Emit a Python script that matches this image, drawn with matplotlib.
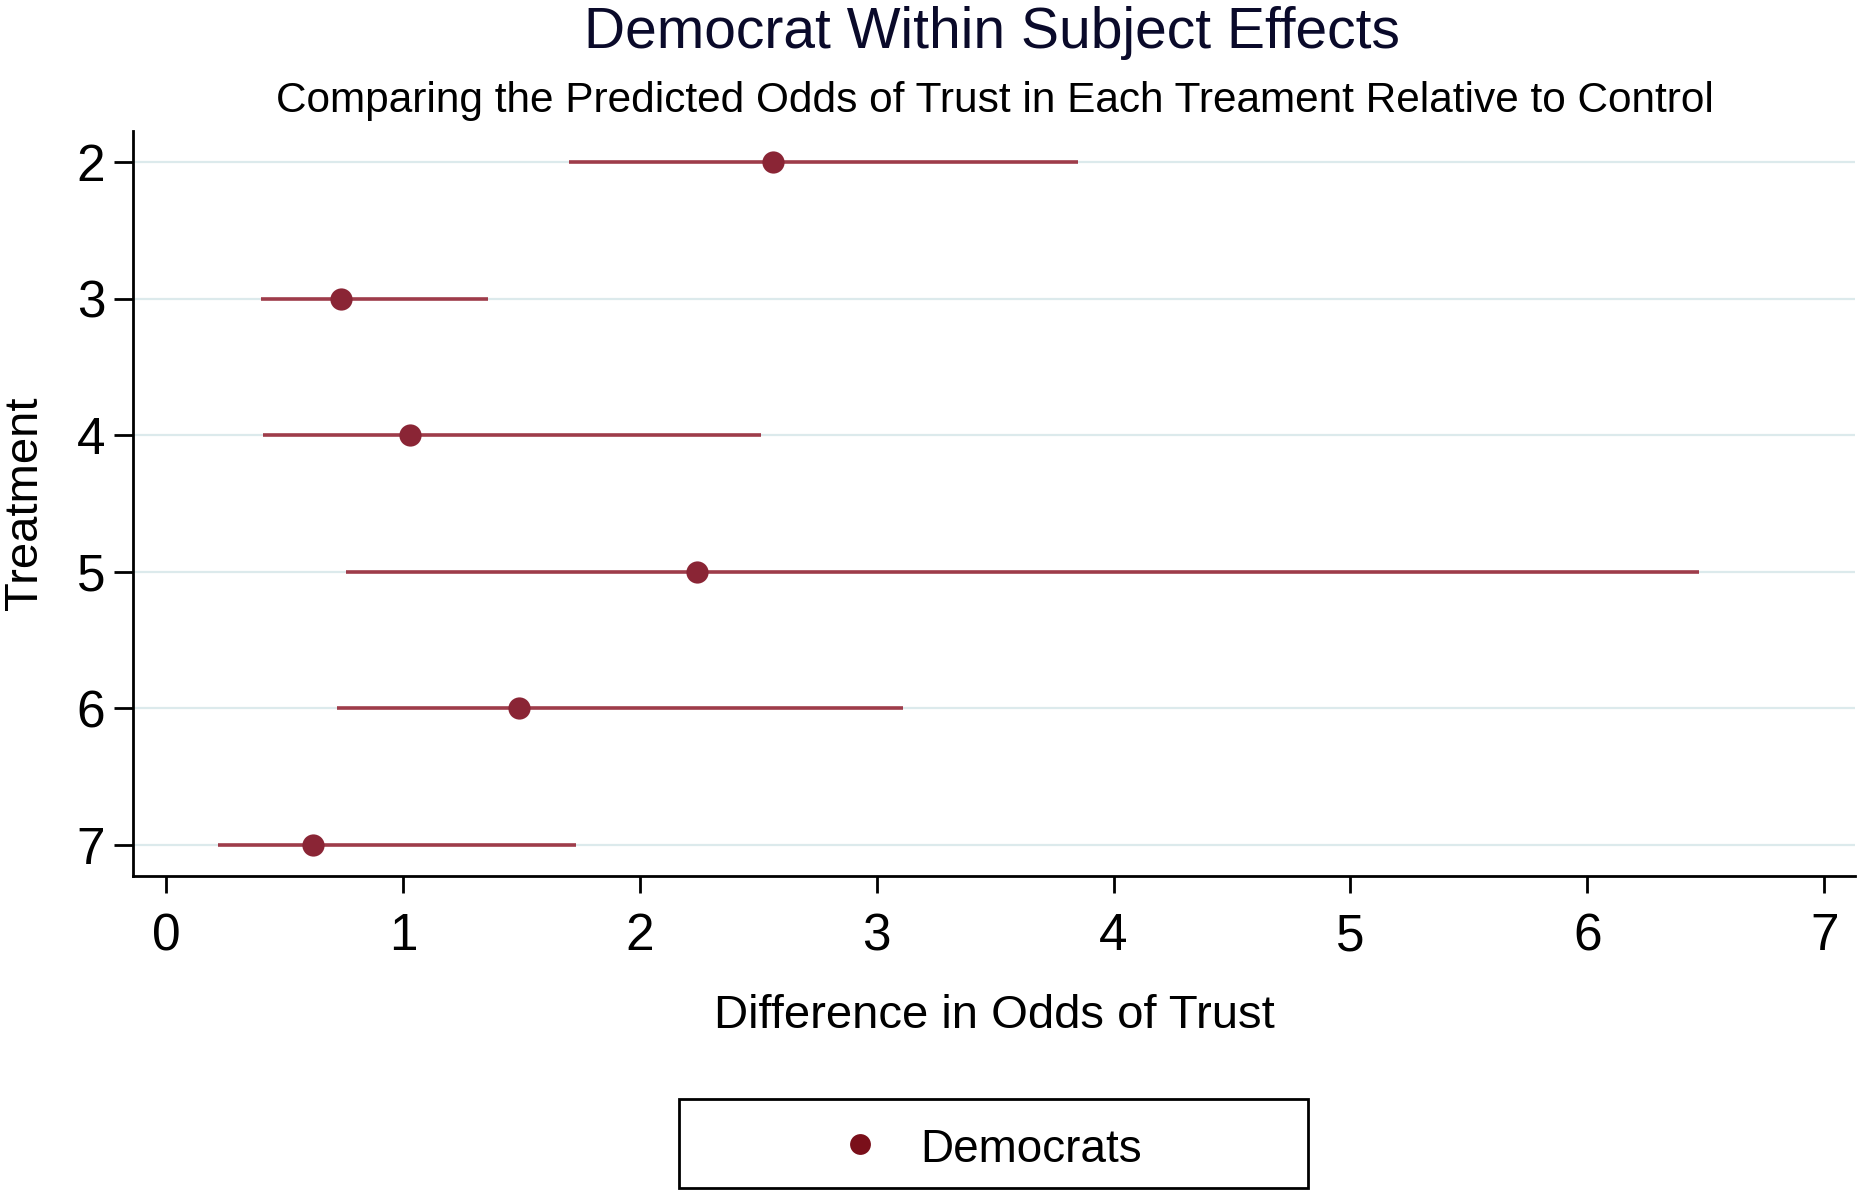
import matplotlib
matplotlib.use("Agg")
import matplotlib.pyplot as plt
from matplotlib.patches import Rectangle
from matplotlib.lines import Line2D

plt.rcParams['font.family'] = ['Liberation Sans', 'DejaVu Sans']

# Data
treatments = [2, 3, 4, 5, 6, 7]
estimate = [2.56, 0.74, 1.03, 2.24, 1.49, 0.62]
ci_low = [1.70, 0.40, 0.41, 0.76, 0.72, 0.22]
ci_high = [3.85, 1.36, 2.51, 6.47, 3.11, 1.73]
x_ticks = [0, 1, 2, 3, 4, 5, 6, 7]
series_label = "Democrats"

W, H = 1861, 1198
fig = plt.figure(figsize=(W / 100, H / 100), dpi=100)
fig.patch.set_facecolor('white')

ax = fig.add_axes([133 / W, 1 - 876 / H, (1855 - 133) / W, (876 - 131) / H])

line_col = '#9E3C4A'
mark_col = '#8A2535'

for t in treatments:
    ax.axhline(t, color='#DCEAEC', lw=1.6, zorder=0)

ax.hlines(treatments, ci_low, ci_high, color=line_col, lw=2.6, zorder=2)
ax.plot(estimate, treatments, 'o', color=mark_col, markersize=16,
        markeredgewidth=0, zorder=3)

ax.set_xlim(-0.14, 7.13)
ax.set_ylim(7.23, 1.77)
ax.set_xticks(x_ticks)
ax.set_yticks(treatments)

for s in ['top', 'right']:
    ax.spines[s].set_visible(False)
for s in ['left', 'bottom']:
    ax.spines[s].set_linewidth(2.0)
    ax.spines[s].set_color('black')

ax.tick_params(axis='y', length=14, width=2.0, pad=6, labelsize=37)
ax.tick_params(axis='x', length=12, width=2.0, pad=14, labelsize=37)

# Titles and labels
fig.text(992 / W, 1 - 48 / H, "Democrat Within Subject Effects",
         ha='center', va='baseline', fontsize=41, color='#0a0a2a')
fig.text(995 / W, 1 - 112 / H,
         "Comparing the Predicted Odds of Trust in Each Treament Relative to Control",
         ha='center', va='baseline', fontsize=30.5, color='black')
fig.text(994 / W, 1 - 1028 / H, "Difference in Odds of Trust",
         ha='center', va='baseline', fontsize=34, color='black')
fig.text(25 / W, 1 - 503 / H, "Treatment", rotation=90,
         ha='center', va='center', fontsize=34, color='black')

# Legend box
fig.patches.append(Rectangle((679 / W, 1 - 1188 / H), (1308 - 679) / W, (1188 - 1099) / H,
                             transform=fig.transFigure, fill=False,
                             edgecolor='black', lw=2.0))
fig.lines.append(Line2D([860 / W], [1 - 1144 / H], transform=fig.transFigure,
                        marker='o', color='#7A0F1A', markersize=15,
                        markeredgewidth=0, linestyle='none'))
fig.text(920 / W, 1 - 1150 / H, series_label, ha='left', va='center',
         fontsize=33, color='black')

fig.savefig("out.png", dpi=100, facecolor='white')
